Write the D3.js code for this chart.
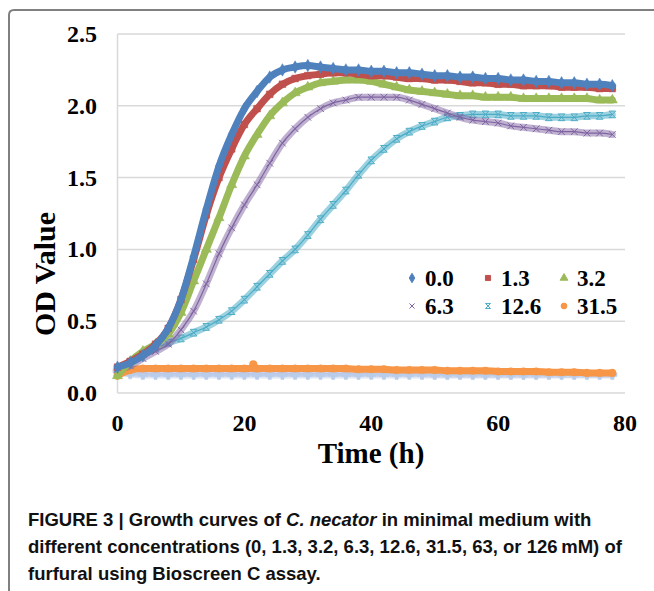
<!DOCTYPE html>
<html lang="en">
<head>
<meta charset="utf-8">
<style>
  body { margin: 0; background: #fff; }
</style>
</head>
<body>
<script src="https://d3js.org/d3.v7.min.js"></script>
<div id="chart"></div>
<script>
// sampling times (h)
var times = [0, 2, 4, 6, 8, 10, 12, 14, 16, 18, 20, 22, 24, 26, 28, 30, 32, 34, 36, 38,
             40, 42, 44, 46, 48, 50, 52, 54, 56, 58, 60, 62, 64, 66, 68, 70, 72, 74, 76, 78];

// OD values, one array per furfural concentration (mM)
var od00 = [0.18, 0.21, 0.26, 0.33, 0.45, 0.65, 0.95, 1.28, 1.58, 1.80, 1.98, 2.10, 2.20, 2.25, 2.27, 2.28, 2.27, 2.26, 2.25, 2.25,
            2.24, 2.24, 2.23, 2.23, 2.22, 2.21, 2.21, 2.20, 2.20, 2.19, 2.19, 2.18, 2.18, 2.17, 2.17, 2.16, 2.16, 2.15, 2.15, 2.14];
var od13 = [0.18, 0.22, 0.27, 0.34, 0.45, 0.65, 0.93, 1.24, 1.50, 1.70, 1.87, 1.98, 2.08, 2.15, 2.19, 2.21, 2.22, 2.23, 2.23, 2.22,
            2.21, 2.21, 2.20, 2.19, 2.19, 2.18, 2.18, 2.17, 2.16, 2.16, 2.15, 2.15, 2.14, 2.14, 2.14, 2.13, 2.13, 2.13, 2.12, 2.12];
var od32 = [0.12, 0.22, 0.29, 0.34, 0.41, 0.56, 0.78, 1.00, 1.22, 1.45, 1.65, 1.80, 1.93, 2.02, 2.09, 2.13, 2.16, 2.17, 2.18, 2.18,
            2.17, 2.15, 2.13, 2.11, 2.10, 2.09, 2.08, 2.07, 2.07, 2.06, 2.06, 2.06, 2.05, 2.05, 2.05, 2.05, 2.05, 2.05, 2.04, 2.04];
var od63 = [0.16, 0.19, 0.24, 0.29, 0.34, 0.44, 0.57, 0.76, 0.97, 1.15, 1.31, 1.45, 1.60, 1.74, 1.84, 1.92, 1.98, 2.02, 2.04, 2.06,
            2.06, 2.06, 2.06, 2.04, 2.01, 1.98, 1.95, 1.92, 1.90, 1.89, 1.88, 1.86, 1.85, 1.84, 1.83, 1.82, 1.82, 1.81, 1.81, 1.80];
var od126 = [0.17, 0.21, 0.27, 0.31, 0.35, 0.38, 0.42, 0.46, 0.51, 0.57, 0.65, 0.74, 0.83, 0.92, 1.00, 1.10, 1.21, 1.31, 1.41, 1.52,
             1.62, 1.70, 1.77, 1.82, 1.86, 1.89, 1.92, 1.93, 1.94, 1.94, 1.94, 1.93, 1.93, 1.93, 1.92, 1.92, 1.92, 1.93, 1.93, 1.94];
var od315 = [0.12, 0.16, 0.17, 0.17, 0.17, 0.17, 0.17, 0.17, 0.17, 0.17, 0.17, 0.17, 0.17, 0.17, 0.17, 0.17, 0.17, 0.17, 0.17, 0.165,
             0.165, 0.165, 0.16, 0.16, 0.16, 0.16, 0.155, 0.155, 0.155, 0.155, 0.15, 0.15, 0.15, 0.15, 0.145, 0.145, 0.145, 0.14, 0.14, 0.14];
// 63 and 126 mM: no growth, not in the legend
var od630 = [0.15, 0.14, 0.135, 0.135, 0.135, 0.135, 0.135, 0.135, 0.135, 0.135, 0.135, 0.135, 0.135, 0.135, 0.135, 0.135, 0.135, 0.135, 0.135, 0.135,
             0.135, 0.135, 0.135, 0.135, 0.135, 0.13, 0.13, 0.13, 0.13, 0.13, 0.13, 0.13, 0.13, 0.13, 0.13, 0.13, 0.13, 0.13, 0.13, 0.13];
var od1260 = [0.16, 0.13, 0.125, 0.125, 0.125, 0.125, 0.125, 0.125, 0.125, 0.125, 0.125, 0.125, 0.125, 0.125, 0.125, 0.125, 0.125, 0.125, 0.125, 0.125,
              0.125, 0.125, 0.125, 0.125, 0.125, 0.125, 0.125, 0.125, 0.125, 0.125, 0.125, 0.125, 0.125, 0.125, 0.125, 0.125, 0.125, 0.125, 0.125, 0.125];

var yTicks = [0, 0.5, 1.0, 1.5, 2.0, 2.5];
var xTicks = [0, 20, 40, 60, 80];

var series = [
  { name: "63",   values: od630,  color: "#c9b9dc", symbol: d3.symbolCross, band: 0.5 },
  { name: "126",  values: od1260, color: "#b9cdea", symbol: d3.symbolCross, band: 0.5 },
  { name: "31.5", values: od315,  color: "#f79646", symbol: d3.symbolCircle, band: 1 },
  { name: "12.6", values: od126,  color: "#4bacc6", symbol: "star", band: 0.55 },
  { name: "6.3",  values: od63,   color: "#8064a2", symbol: "x", band: 0.5 },
  { name: "3.2",  values: od32,   color: "#9bbb59", symbol: d3.symbolTriangle, band: 1 },
  { name: "1.3",  values: od13,   color: "#c0504d", symbol: d3.symbolSquare, band: 1 },
  { name: "0.0",  values: od00,   color: "#4f81bd", symbol: d3.symbolDiamond, band: 1 }
];
var legendOrder = ["0.0", "1.3", "3.2", "6.3", "12.6", "31.5"];

var width = 654, height = 591;
var serif = "'Liberation Serif', 'Times New Roman', serif";
var svg = d3.select("#chart").append("svg")
  .attr("width", width)
  .attr("height", height);

// frame (top + left only, rounded corner)
svg.append("path")
  .attr("d", "M9,591 L9,15 Q9,10 14,10 L654,10")
  .attr("fill", "none")
  .attr("stroke", "#808080")
  .attr("stroke-width", 2);

var x = d3.scaleLinear().domain([0, 80]).range([117.5, 625]);
var y = d3.scaleLinear().domain([0, 2.5]).range([393, 34]);

// gridlines
svg.append("g").selectAll("line")
  .data(yTicks.slice(1))
  .enter().append("line")
  .attr("x1", x(0)).attr("x2", x(80))
  .attr("y1", function (d) { return y(d); })
  .attr("y2", function (d) { return y(d); })
  .attr("stroke", "#d9d9d9")
  .attr("stroke-width", 1.5);

// axes lines
svg.append("line").attr("x1", x(0)).attr("x2", x(80)).attr("y1", y(0)).attr("y2", y(0))
  .attr("stroke", "#d9d9d9").attr("stroke-width", 1.5);
svg.append("line").attr("x1", x(0)).attr("x2", x(0)).attr("y1", y(0)).attr("y2", y(2.5))
  .attr("stroke", "#d9d9d9").attr("stroke-width", 1.5);

// tick labels
svg.append("g").selectAll("text")
  .data(yTicks)
  .enter().append("text")
  .attr("x", 97)
  .attr("y", function (d) { return y(d) + 8; })
  .attr("text-anchor", "end")
  .style("font-family", serif)
  .style("font-weight", "bold")
  .style("font-size", "24px")
  .text(function (d) { return d3.format(".1f")(d); });

svg.append("g").selectAll("text")
  .data(xTicks)
  .enter().append("text")
  .attr("x", function (d) { return x(d); })
  .attr("y", 431)
  .attr("text-anchor", "middle")
  .style("font-family", serif)
  .style("font-weight", "bold")
  .style("font-size", "24px")
  .text(function (d) { return d; });

// axis titles
svg.append("text")
  .attr("x", 371).attr("y", 463)
  .attr("text-anchor", "middle")
  .style("font-family", serif)
  .style("font-weight", "bold")
  .style("font-size", "29px")
  .text("Time (h)");

svg.append("text")
  .attr("transform", "translate(55,274) rotate(-90)")
  .attr("text-anchor", "middle")
  .style("font-family", serif)
  .style("font-weight", "bold")
  .style("font-size", "30px")
  .text("OD Value");

// marker path generator
function markerPath(sym, size) {
  if (sym === "x") {
    var r = Math.sqrt(size) / 2;
    return "M" + (-r) + "," + (-r) + "L" + r + "," + r + "M" + (-r) + "," + r + "L" + r + "," + (-r);
  }
  if (sym === "star") {
    var s = Math.sqrt(size) / 2;
    return "M" + (-s) + "," + (-s) + "L" + s + "," + s + "M" + (-s) + "," + s + "L" + s + "," + (-s) +
           "M" + (-s) + "," + (-s) + "L" + s + "," + (-s) + "M" + (-s) + "," + s + "L" + s + "," + s;
  }
  return d3.symbol().type(sym).size(size)();
}
function isStroked(sym) { return sym === "x" || sym === "star"; }

var line = d3.line()
  .x(function (d) { return x(d[0]); })
  .y(function (d) { return y(d[1]); })
  .curve(d3.curveMonotoneX);

series.forEach(function (s) {
  var pts = times.map(function (t, i) { return [t, s.values[i]]; });
  var g = svg.append("g");
  // thick band formed by the dense markers
  g.append("path")
    .datum(pts)
    .attr("d", line)
    .attr("fill", "none")
    .attr("stroke", s.color)
    .attr("stroke-width", 7)
    .attr("stroke-linecap", "round")
    .attr("stroke-opacity", s.band);
  g.append("path")
    .datum(pts)
    .attr("d", line)
    .attr("fill", "none")
    .attr("stroke", s.color)
    .attr("stroke-width", 1.2);
  g.selectAll(".m")
    .data(pts)
    .enter().append("path")
    .attr("class", "m")
    .attr("transform", function (d) { return "translate(" + x(d[0]) + "," + y(d[1]) + ")"; })
    .attr("d", markerPath(s.symbol, 45))
    .attr("fill", isStroked(s.symbol) ? "none" : s.color)
    .attr("stroke", s.color)
    .attr("stroke-width", isStroked(s.symbol) ? 1 : 0.5);
});

// one stray reading of the 31.5 mM culture near 21 h
svg.append("circle")
  .attr("cx", x(21.4)).attr("cy", y(0.2)).attr("r", 4)
  .attr("fill", "#f79646");

// legend
function findSeries(name) { return series.find(function (e) { return e.name === name; }); }
var legendCols = [412, 488, 564];
var legendRows = [278, 306];
var legend = svg.append("g").selectAll("g")
  .data(legendOrder)
  .enter().append("g")
  .attr("transform", function (d, i) {
    return "translate(" + legendCols[i % 3] + "," + legendRows[Math.floor(i / 3)] + ")";
  });
legend.append("path")
  .attr("d", function (d) { return markerPath(findSeries(d).symbol, 26); })
  .attr("fill", function (d) { var s = findSeries(d); return isStroked(s.symbol) ? "none" : s.color; })
  .attr("stroke", function (d) { return findSeries(d).color; })
  .attr("stroke-width", 1);
legend.append("text")
  .attr("x", 13)
  .attr("y", 8)
  .style("font-family", serif)
  .style("font-weight", "bold")
  .style("font-size", "23px")
  .text(function (d) { return d; });

// caption
var cap = svg.append("g")
  .style("font-family", "'Liberation Sans Narrow', 'Liberation Sans', Arial, sans-serif")
  .style("font-weight", "bold")
  .style("font-size", "18.5px")
  .attr("fill", "#111");
var l1 = cap.append("text").attr("x", 28).attr("y", 526);
l1.append("tspan").text("FIGURE 3 | Growth curves of ");
l1.append("tspan").style("font-style", "italic").text("C. necator");
l1.append("tspan").text(" in minimal medium with");
cap.append("text").attr("x", 28).attr("y", 553)
  .text("different concentrations (0, 1.3, 3.2, 6.3, 12.6, 31.5, 63, or 126\u2009mM) of");
cap.append("text").attr("x", 28).attr("y", 580)
  .text("furfural using Bioscreen C assay.");
</script>
</body>
</html>
